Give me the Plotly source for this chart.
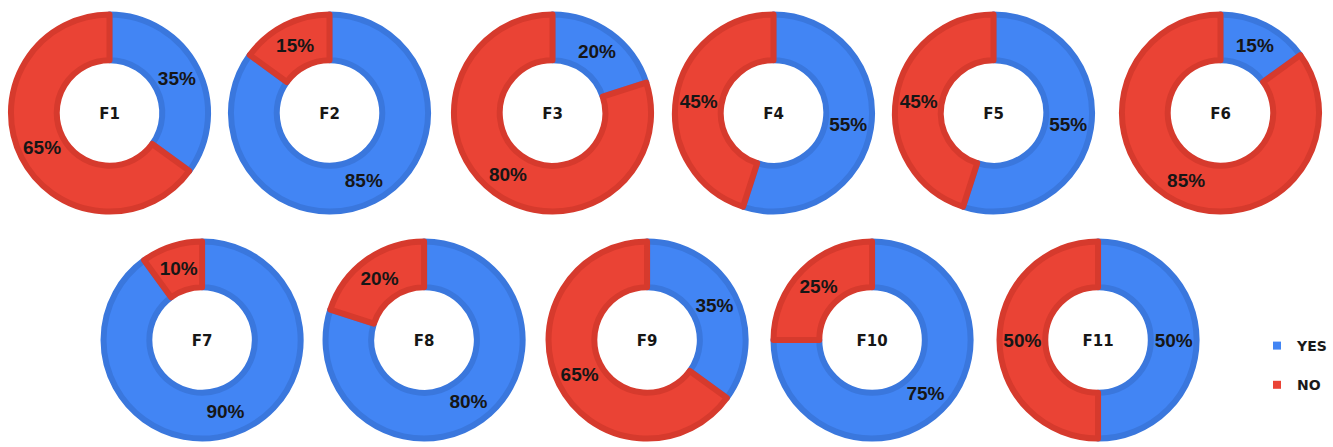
import plotly.graph_objects as go

# Survey answers per feature (percent YES / percent NO)
features = ["F1", "F2", "F3", "F4", "F5", "F6", "F7", "F8", "F9", "F10", "F11"]
yes_pct = [35, 85, 20, 55, 55, 15, 90, 80, 35, 75, 50]
no_pct = [65, 15, 80, 45, 45, 85, 10, 20, 65, 25, 50]
answers = ["YES", "NO"]

W, H = 1333, 447
BLUE, RED = "#4285F4", "#EA4335"
BLUE_DK, RED_DK = "#3A77DD", "#D63A2D"

# donut centres in pixels (row 1 has six donuts, row 2 has five)
centres = [(110, 113), (331, 113), (555, 113), (777, 113), (998, 113), (1226, 113),
           (203, 340), (426, 340), (650, 340), (876, 340), (1103, 340)]
R_OUT, R_IN, EDGE = 102, 50, 6

fig = go.Figure()
for name, y, n, (cx, cy) in zip(features, yes_pct, no_pct, centres):
    r = R_OUT - EDGE / 2
    ri = R_IN + EDGE / 2
    fig.add_trace(go.Pie(
        labels=answers,
        values=[y, n],
        sort=False,
        direction="clockwise",
        rotation=0,
        hole=ri / r,
        domain=dict(x=[(cx - r) / W, (cx + r) / W],
                    y=[(H - cy - r) / H, (H - cy + r) / H]),
        marker=dict(colors=[BLUE, RED],
                    line=dict(color=[BLUE_DK, RED_DK], width=EDGE)),
        texttemplate="<b>%{value}%</b>",
        textposition="inside",
        insidetextorientation="horizontal",
        textfont=dict(family="Liberation Sans, Arial", size=19, color="#161616"),
        title=dict(text=f"<b>{name}</b>", position="middle center",
                   font=dict(family="DejaVu Sans", size=15, color="#161616")),
        showlegend=False,
        hoverinfo="label+percent",
    ))

# legend entries
for lab, col in zip(answers, [BLUE, RED]):
    fig.add_trace(go.Scatter(
        x=[None], y=[None], mode="markers", name=f"<b>{lab}</b>",
        legendgroup=lab,
        marker=dict(symbol="square", size=8, color=col),
    ))

fig.update_layout(
    width=W, height=H,
    margin=dict(l=0, r=0, t=0, b=0),
    paper_bgcolor="white", plot_bgcolor="white",
    xaxis=dict(visible=False), yaxis=dict(visible=False),
    uniformtext=dict(minsize=19, mode="show"),
    legend=dict(x=1263 / W, y=(H - 330) / H, xanchor="left", yanchor="top",
                tracegroupgap=18, itemwidth=30,
                font=dict(family="DejaVu Sans", size=14, color="#1a1a1a"),
                bgcolor="rgba(0,0,0,0)"),
)

fig.write_html("out.html")
